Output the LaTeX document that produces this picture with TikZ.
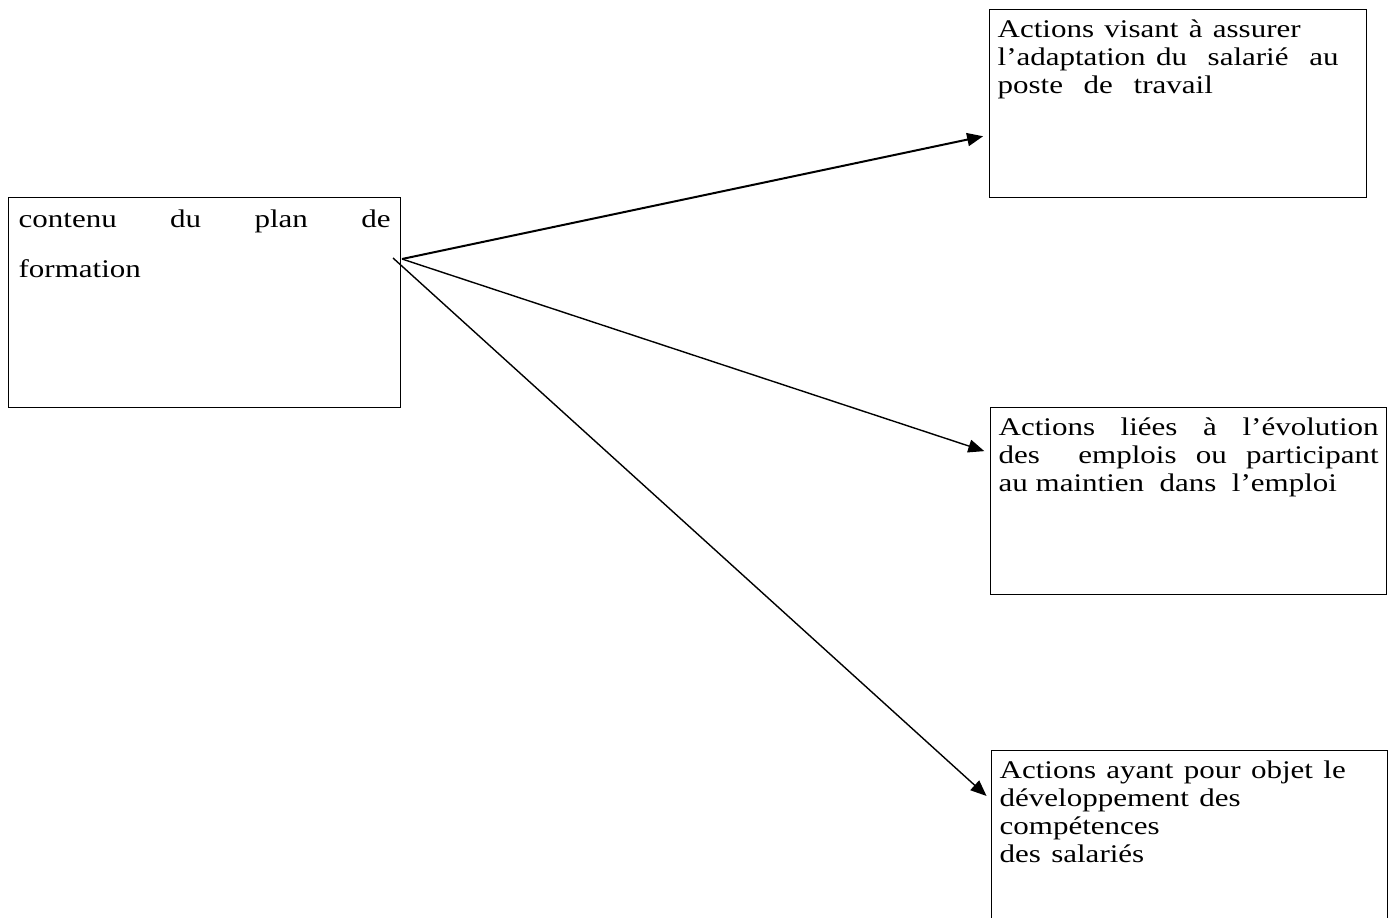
\documentclass[tikz,border=0pt]{standalone}
\usepackage{fontspec}
\setmainfont{Liberation Serif}
\usetikzlibrary{arrows.meta,positioning,calc}

\begin{document}
\begin{tikzpicture}[x=0.5pt, y=-0.5pt,
  box/.style={draw, line width=0.65pt, anchor=north west, align=left, inner xsep=4pt, inner ysep=3pt, text height=14.1pt, font=\fontsize{15.5}{17.1}\selectfont},
  jbox/.style={box, align=justify},
  arrow/.style={-{Triangle[length=8pt,width=6.5pt]}, line width=0.7pt, shorten >=3pt},
]
\useasboundingbox (0,0) rectangle (1399,917);
\clip (0,0) rectangle (1399,917);

% texte un peu tasse en hauteur, comme dans l'original
\begin{scope}[y=-0.6098pt, yscale=0.82, transform shape]
% plan de formation
\node[jbox, inner xsep=5pt, text width=186pt, text height=15.3pt, text depth=106.7pt, font=\fontsize{15.5}{30.5}\selectfont] (plan) at (8,197) {contenu du plan de\linebreak formation};

% les trois types d'actions
\node[box, text width=180.5pt, text depth=94.5pt] (adapt) at (989,9) {Actions visant à assurer\\ l’adaptation du~ salarié~ au\\ poste~ de~ travail};
\node[jbox, text width=190pt, text depth=93.9pt] (evol) at (990,407) {Actions liées à l’évolution\linebreak des~ emplois ou participant\linebreak au maintien~ dans~ l’emploi};
\node[box, text width=190pt, text depth=89.7pt] (compet) at (991,750) {Actions ayant pour objet le\\ développement des\\ compétences\\ des salariés};
\end{scope}

\coordinate (fork) at (402,259);
\coordinate (fork3) at (393,258);

\draw[arrow, line width=1pt] (fork) -- (adapt.west |- 0,135);
\draw[arrow] (fork) -- (evol.west |- 0,453);
\draw[arrow] (fork3) -- (compet.west |- 0,800);

\end{tikzpicture}
\end{document}
